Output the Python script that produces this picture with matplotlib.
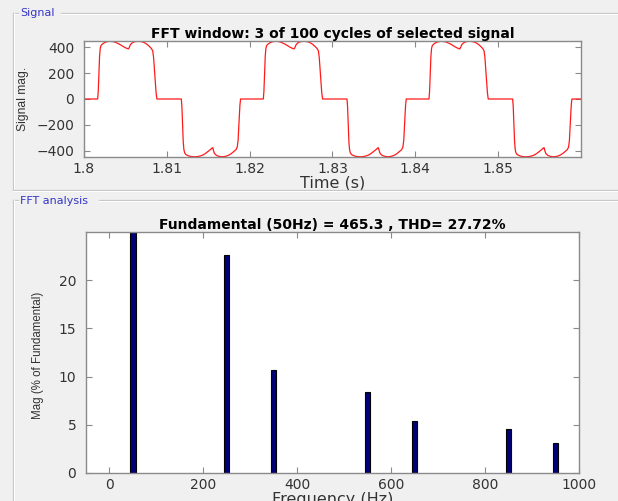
import matplotlib
matplotlib.use("Agg")
import matplotlib.pyplot as plt
from matplotlib.lines import Line2D
import numpy as np

# ---------------- data ----------------
cycle_starts = [1.80, 1.82, 1.84]          # s, start of each of the 3 cycles
shape_t_ms = [0.0, 1.65, 1.72, 1.80, 1.88, 1.96, 2.05, 2.2, 2.4, 2.7, 3.0, 3.3, 3.6, 3.9,
              4.2, 4.5, 4.8, 5.1, 5.35, 5.45, 5.6, 5.8, 6.1, 6.4, 6.7, 7.0, 7.3, 7.6,
              7.9, 8.15, 8.3, 8.4, 8.55, 8.7, 8.8,
              11.75, 11.82, 11.90, 11.98, 12.06, 12.15, 12.3, 12.6, 12.9, 13.2, 13.5,
              13.8, 14.1, 14.4, 14.7, 15.0, 15.25, 15.45, 15.55, 15.62, 15.75, 16.0,
              16.3, 16.6, 16.9, 17.2, 17.5, 17.8, 18.1, 18.35, 18.5, 18.6, 18.72,
              18.82, 18.9, 20.0]
shape_v = [0, 0, 60, 200, 330, 390, 412, 422, 432, 440, 444, 444, 441, 434,
           425, 414, 402, 392, 386, 395, 418, 432, 441, 444, 444, 441, 434, 422,
           405, 388, 370, 320, 180, 50, 0,
           0, -60, -200, -330, -390, -415, -428, -438, -443, -445, -445,
           -443, -438, -430, -418, -403, -390, -378, -376, -395, -420, -435,
           -442, -445, -444, -440, -432, -420, -404, -390, -370, -320, -180,
           -50, 0, 0]

harm_freq = [50, 250, 350, 550, 650, 850, 950]            # Hz
harm_mag = [100.0, 22.6, 10.7, 8.4, 5.4, 4.6, 3.1]         # % of fundamental

top_title = "FFT window: 3 of 100 cycles of selected signal"
bot_title = "Fundamental (50Hz) = 465.3 , THD= 27.72%"

# ---------------- figure ----------------
W, H = 618, 501
fig = plt.figure(figsize=(W / 100, H / 100), dpi=100, facecolor="#f0f0f0")

def fx(px):
    return px / W

def fy(py):
    return 1 - py / H

def hline(x0, x1, y, c="#c8c8c8"):
    fig.add_artist(Line2D([fx(x0), fx(x1)], [fy(y), fy(y)], color=c, lw=0.9,
                          transform=fig.transFigure))
    fig.add_artist(Line2D([fx(x0), fx(x1)], [fy(y + 1), fy(y + 1)], color="white", lw=0.7,
                          transform=fig.transFigure))

def vline(x, y0, y1, c="#c8c8c8"):
    fig.add_artist(Line2D([fx(x), fx(x)], [fy(y0), fy(y1)], color=c, lw=0.9,
                          transform=fig.transFigure))
    fig.add_artist(Line2D([fx(x + 1), fx(x + 1)], [fy(y0), fy(y1)], color="white", lw=0.7,
                          transform=fig.transFigure))

# panel frames
hline(13, 18, 13); hline(61, W, 13); vline(13, 13, 190); hline(13, W, 190)
hline(13, 18, 200); hline(99, W, 200); vline(13, 200, H)
fig.text(fx(20), fy(13), "Signal", color="#3535c8", fontsize=8,
         family="DejaVu Sans", va="center", ha="left")
fig.text(fx(20), fy(201), "FFT analysis", color="#3535c8", fontsize=8,
         family="DejaVu Sans", va="center", ha="left")

axcol = "#8a8a8a"
txtcol = "#333333"

def style(ax):
    for s in ax.spines.values():
        s.set_color(axcol)
        s.set_linewidth(1.0)
    ax.tick_params(direction="in", length=4, width=0.8, color=axcol,
                   top=True, right=True, labelcolor=txtcol, labelsize=10)
    ax.tick_params(axis="x", pad=3.5)
    ax.tick_params(axis="y", pad=7)
    for lab in ax.get_xticklabels() + ax.get_yticklabels():
        lab.set_family("DejaVu Sans")

# ---------- top axes ----------
ax1 = fig.add_axes([fx(84), fy(157), (581 - 84) / W, (157 - 41) / H])
t_all, v_all = [], []
for c0 in cycle_starts:
    t_all += [c0 + tm / 1000.0 for tm in shape_t_ms]
    v_all += shape_v
ax1.plot(t_all, v_all, color="#ff1a1a", lw=0.9)
ax1.set_xlim(1.80, 1.86)
ax1.set_ylim(-447, 447)
ax1.set_xticks([1.80, 1.81, 1.82, 1.83, 1.84, 1.85])
ax1.set_xticklabels(["1.8", "1.81", "1.82", "1.83", "1.84", "1.85"])
ax1.set_yticks([-400, -200, 0, 200, 400])
style(ax1)
ax1.set_title(top_title, fontsize=10, fontweight="bold", family="DejaVu Sans",
              color="black", pad=2)
ax1.set_xlabel("Time (s)", fontsize=11.5, family="DejaVu Sans", color=txtcol)
ax1.xaxis.set_label_coords(0.5, (157 - 175) / 116)
ax1.set_ylabel("Signal mag.", fontsize=8.7, family="Liberation Sans", color=txtcol)
ax1.yaxis.set_label_coords((29 - 84) / 497, 0.5)

# ---------- bottom axes ----------
ax2 = fig.add_axes([fx(86), fy(473), (579 - 86) / W, (473 - 232) / H])
ax2.bar(harm_freq, harm_mag, width=11, color="#00007a", edgecolor="black", linewidth=0.8)
ax2.set_xlim(-50, 1000)
ax2.set_ylim(0, 25)
ax2.set_xticks([0, 200, 400, 600, 800, 1000])
ax2.set_yticks([0, 5, 10, 15, 20])
style(ax2)
ax2.set_title(bot_title, fontsize=10, fontweight="bold", family="DejaVu Sans",
              color="black", pad=2)
ax2.set_xlabel("Frequency (Hz)", fontsize=11.5, family="DejaVu Sans", color=txtcol)
ax2.xaxis.set_label_coords(0.5, (473 - 492) / 241)
ax2.set_ylabel("Mag (% of Fundamental)", fontsize=8.3, family="Liberation Sans",
               color=txtcol)
ax2.yaxis.set_label_coords((44 - 86) / 493, 0.49)

fig.savefig("out.png", dpi=100, facecolor=fig.get_facecolor())
